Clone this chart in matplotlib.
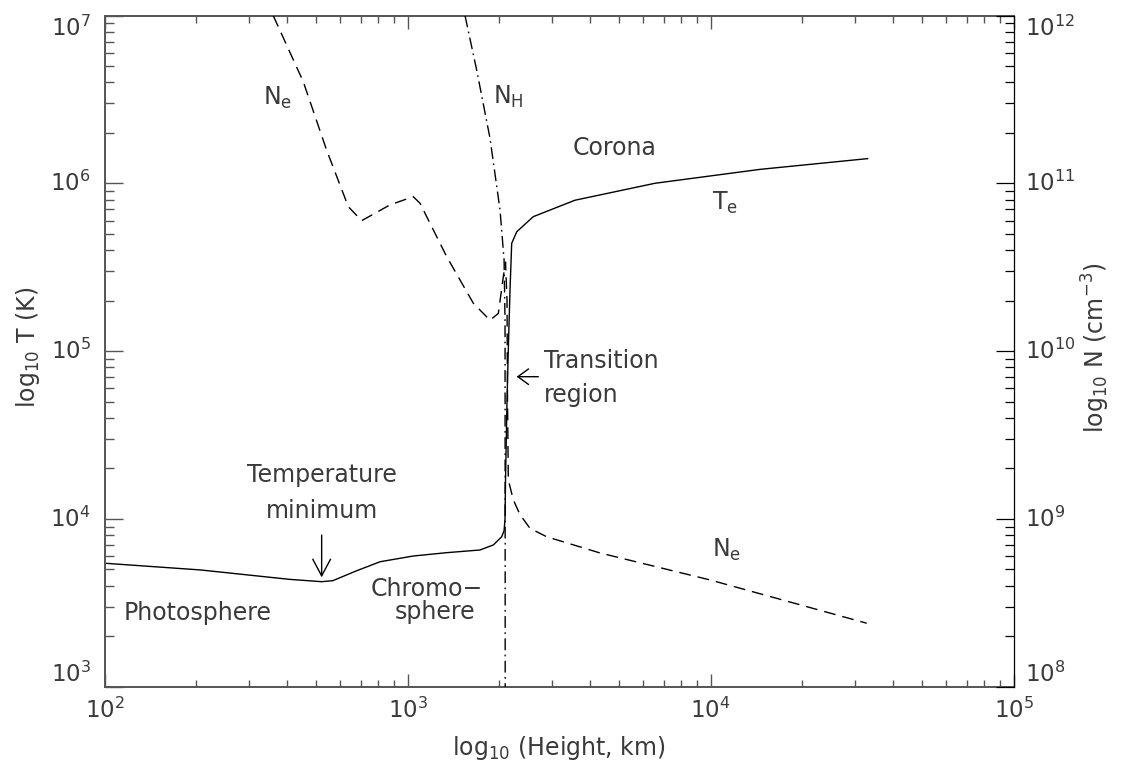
import matplotlib
matplotlib.use('Agg')
import matplotlib.pyplot as plt
from matplotlib.ticker import FixedLocator, LogFormatterMathtext, NullFormatter, LogLocator

plt.rcParams['font.family'] = ['DejaVu Sans']
plt.rcParams['mathtext.fontset'] = 'dejavusans'
plt.rcParams['mathtext.default'] = 'regular'

# ---------------- data ----------------
te_height_km = [100, 207, 407, 520, 566, 676, 811, 1043, 1345, 1732, 1917, 2043,
                2080, 2095, 2103, 2127, 2151, 2176, 2204, 2290, 2597, 3565, 6546,
                14555, 32960]
te_K = [5445, 4966, 4365, 4227, 4285, 4898, 5559, 6012, 6295, 6531, 6998, 7834,
        8511, 10000, 17061, 51170, 111944, 231739, 439542, 515229, 633870, 794328,
        1002305, 1213389, 1406048]

ne_height_km = [360, 452, 540, 637, 705, 874, 1043, 1098, 1345, 1647, 1869, 1991,
                2068, 2103, 2127, 2135, 2148, 2231, 2348, 2533, 2875, 4312, 9947,
                32730]
ne_cm3 = [1.0e12, 4.05e11, 1.58e11, 7.26e10, 6.0e10, 7.45e10, 8.34e10, 7.62e10,
          3.66e10, 1.93e10, 1.53e10, 1.68e10, 2.78e10, 3.40e10, 2.02e10, 5.12e9,
          1.71e9, 1.30e9, 1.06e9, 8.79e8, 7.83e8, 6.27e8, 4.33e8, 2.39e8]

nh_height_km = [1546, 1689, 1869, 2017, 2080, 2095, 2097, 2098]
nh_cm3 = [1.0e12, 4.74e11, 1.86e11, 6.95e10, 3.50e10, 1.53e10, 1.0e9, 3.2e7]

x_ticks = [1e2, 1e3, 1e4, 1e5]
t_ticks = [1e3, 1e4, 1e5, 1e6, 1e7]
n_ticks = [1e8, 1e9, 1e10, 1e11, 1e12]

TXT = '#3a3a3a'
AX = '#555555'
FS = 17

fig = plt.figure(figsize=(11.22, 7.62), dpi=100)
ax = fig.add_axes([0.09332, 0.09882, 0.81016, 0.88058])
ax2 = ax.twinx()

for a in (ax, ax2):
    a.set_xscale('log')
    a.set_yscale('log')
    a.set_xlim(x_ticks[0], x_ticks[-1])
ax.set_ylim(t_ticks[0], t_ticks[-1])
ax2.set_ylim(n_ticks[0], n_ticks[-1])

ax.plot(te_height_km, te_K, color='black', lw=1.0, solid_joinstyle='miter')
ax2.plot(ne_height_km, ne_cm3, color='black', lw=1.0, dashes=(8.5, 5))
ax2.plot(nh_height_km, nh_cm3, color='black', lw=1.0, dashes=(8.5, 3.2, 1.2, 3.2))

# ticks
ax.xaxis.set_major_locator(FixedLocator(x_ticks))
ax.xaxis.set_major_formatter(LogFormatterMathtext())
ax.xaxis.set_minor_locator(LogLocator(base=10, subs=range(2, 10)))
ax.xaxis.set_minor_formatter(NullFormatter())
ax.yaxis.set_major_locator(FixedLocator(t_ticks))
ax.yaxis.set_major_formatter(LogFormatterMathtext())
ax.yaxis.set_minor_locator(LogLocator(base=10, subs=range(2, 10)))
ax.yaxis.set_minor_formatter(NullFormatter())
ax2.yaxis.set_major_locator(FixedLocator(n_ticks))
ax2.yaxis.set_major_formatter(LogFormatterMathtext())
ax2.yaxis.set_minor_locator(LogLocator(base=10, subs=range(2, 10)))
ax2.yaxis.set_minor_formatter(NullFormatter())

ax.tick_params(axis='x', which='both', direction='in', top=True, bottom=True,
               color=AX, width=1.0, labelsize=16.5, labelcolor=TXT, pad=8)
ax.tick_params(axis='x', which='major', length=9.7)
ax.tick_params(axis='x', which='minor', length=4.8)
ax.tick_params(axis='y', which='both', direction='in', left=True, right=False,
               color=AX, width=1.0, labelsize=16.5, labelcolor=TXT, pad=10)
ax.tick_params(axis='y', which='major', length=13)
ax.tick_params(axis='y', which='minor', length=6.5)
ax2.tick_params(axis='y', which='both', direction='in', left=False, right=True,
                color='black', width=0.9, labelsize=16.5, labelcolor=TXT, pad=8)
ax2.tick_params(axis='y', which='major', length=13)
ax2.tick_params(axis='y', which='minor', length=6.5)

for s in ('left', 'top', 'bottom'):
    ax.spines[s].set_color(AX)
    ax.spines[s].set_linewidth(1.4)
    ax2.spines[s].set_visible(False)
ax.spines['right'].set_visible(False)
ax2.spines['right'].set_color('black')
ax2.spines['right'].set_linewidth(0.9)

# axis labels
ax.set_xlabel('log$_{10}$ (Height, km)', fontsize=FS, color=TXT, labelpad=8)
ax.set_ylabel('log$_{10}$ T (K)', fontsize=FS, color=TXT, va='center')
ax.yaxis.set_label_coords(-0.0845, 0.505)
ax2.set_ylabel('log$_{10}$ N (cm$^{-3}$)', fontsize=FS, color=TXT, va='center',
               rotation=90)
ax2.yaxis.set_label_coords(1.0906, 0.505)

# annotations (data coords of the T axis)
def txt(x, y, s, ha='left'):
    ax.text(x, y, s, fontsize=FS, color=TXT, ha=ha, va='baseline')

txt(333, 2.963e6, 'N$_e$')
txt(1917, 3.004e6, 'N$_H$')
txt(3505, 1.477e6, 'Corona')
txt(10077, 6.948e5, 'T$_e$')
txt(2818, 7.907e4, 'Transition')
txt(2818, 5.0e4, 'region')
txt(520, 16610, 'Temperature', ha='center')
txt(520, 10131, 'minimum', ha='center')
txt(115.8, 2498, 'Photosphere')
txt(756.6, 3473, 'Chromo\u2212')
txt(907.8, 2533, 'sphere')
txt(10077, 5957, 'N$_e$')

ax.annotate('', xy=(520, 4487), xytext=(520, 8018),
            arrowprops=dict(arrowstyle='->,head_length=0.6,head_width=0.32',
                            mutation_scale=20, lw=1.0, color='black',
                            shrinkA=0, shrinkB=0))
ax.annotate('', xy=(2289, 70470), xytext=(2698, 70470),
            arrowprops=dict(arrowstyle='->,head_length=0.55,head_width=0.4',
                            mutation_scale=14, lw=1.0, color='black',
                            shrinkA=0, shrinkB=0))

fig.canvas.draw()
for a in (ax, ax2):
    labels = a.get_yticklabels()
    labels[0].set_va('bottom')
    labels[-1].set_va('top')
    for l in labels[1:-1]:
        l.set_va('center')

fig.savefig('out.png', dpi=100, facecolor='white')
